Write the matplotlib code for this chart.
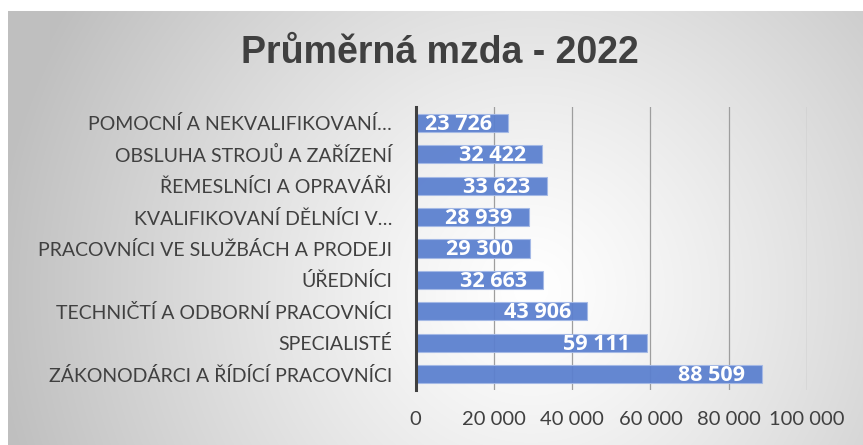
import numpy as np
import matplotlib
matplotlib.use("Agg")
import matplotlib.pyplot as plt

title = "Průměrná mzda - 2022"
categories = [
    "ZÁKONODÁRCI A ŘÍDÍCÍ PRACOVNÍCI",
    "SPECIALISTÉ",
    "TECHNIČTÍ A ODBORNÍ PRACOVNÍCI",
    "ÚŘEDNÍCI",
    "PRACOVNÍCI VE SLUŽBÁCH A PRODEJI",
    "KVALIFIKOVANÍ DĚLNÍCI V…",
    "ŘEMESLNÍCI A OPRAVÁŘI",
    "OBSLUHA STROJŮ A ZAŘÍZENÍ",
    "POMOCNÍ A NEKVALIFIKOVANÍ…",
]
values = [88509, 59111, 43906, 32663, 29300, 28939, 33623, 32422, 23726]
xticks = [0, 20000, 40000, 60000, 80000, 100000]
xtick_labels = ["0", "20 000", "40 000", "60 000", "80 000", "100 000"]

W, H = 863, 445
fig = plt.figure(figsize=(W / 100, H / 100), dpi=100)

# background radial gradient panel
bg = fig.add_axes([0, 0, 1, 1], zorder=-10)
yy, xx = np.mgrid[0:H, 0:W]
d = np.hypot(xx - 530, yy - 290)
col = 255 - 64 * np.clip(d / 540, 0, 1) ** 1.2
img = np.stack([col] * 3, -1) / 255.0
mask = (xx < 8) | (yy < 11)
img[mask] = 1.0
bg.imshow(img, extent=[0, W, H, 0], aspect="auto", interpolation="bilinear")
bg.set_xlim(0, W)
bg.set_ylim(H, 0)
bg.axis("off")

ax = fig.add_axes([415.6 / W, 1 - 390 / H, (807 - 415.6) / W, (390 - 107) / H])
ax.patch.set_alpha(0)
y = np.arange(len(categories))
ax.barh(y, values, height=0.575, color="#5b80cf", edgecolor="#a4b9e6",
        linewidth=0.8, alpha=0.94, zorder=2)
ax.set_xlim(0, 100000)
ax.set_ylim(-0.5, len(categories) - 0.5)
ax.set_xticks(xticks, xtick_labels)
ax.set_yticks(y, categories)
ax.tick_params(axis="x", length=0, pad=15, labelsize=14.5, labelcolor="#404040")
ax.tick_params(axis="y", length=0, pad=17, labelsize=14, labelcolor="#404040")
for lab in ax.get_xticklabels() + ax.get_yticklabels():
    lab.set_fontfamily("Lato")
ax.set_axisbelow(True)
ax.xaxis.grid(True, color="#9e9e9e", linewidth=0.9)
for s in ["top", "right", "bottom"]:
    ax.spines[s].set_visible(False)
ax.spines["left"].set_color("#404040")
ax.spines["left"].set_linewidth(2.2)
ax.spines["left"].set_zorder(3)

for i, v in enumerate(values):
    ax.annotate(f"{v:,}".replace(",", " "), xy=(v, i), xytext=(-12, -1),
                textcoords="offset points", ha="right", va="center",
                color="white", fontweight="bold", fontsize=15.5,
                family="Open Sans", zorder=4)

fig.text(440 / W, 1 - 53 / H, title, ha="center", va="center", fontsize=27,
         fontweight="bold", color="#404040",
         family=["Liberation Sans Narrow", "Liberation Sans"])

fig.savefig("out.png", dpi=100)
